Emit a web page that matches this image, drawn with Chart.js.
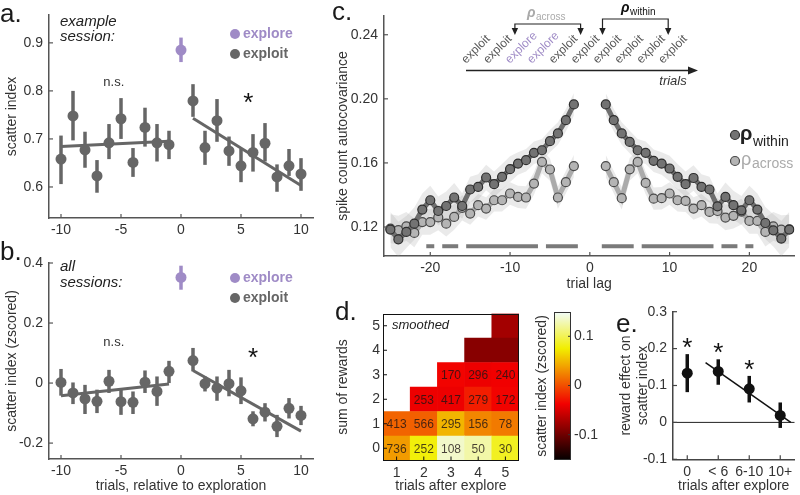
<!DOCTYPE html>
<html><head><meta charset="utf-8">
<script src="https://cdn.jsdelivr.net/npm/chart.js@4.4.1/dist/chart.umd.min.js"></script>
<style>
html,body{margin:0;padding:0;background:#fff}
body{width:800px;height:495px;position:relative;overflow:hidden;font-family:"Liberation Sans",Arial,Helvetica,sans-serif}
canvas{position:absolute}
.pl{position:absolute;font-size:26px;line-height:26px;color:#1a1a1a}
</style></head><body>
<canvas id="cA" width="320" height="240" style="left:0;top:0"></canvas>
<canvas id="cB" width="320" height="255" style="left:0;top:240px"></canvas>
<canvas id="cC" width="470" height="293" style="left:330px;top:0"></canvas>
<canvas id="cD" width="190" height="205" style="left:330px;top:290px"></canvas>
<canvas id="cBar" width="80" height="205" style="left:520px;top:290px"></canvas>
<canvas id="cE" width="200" height="205" style="left:600px;top:290px"></canvas>
<div class="pl" style="left:0;top:0">a.</div>
<div class="pl" style="left:0;top:238px">b.</div>
<div class="pl" style="left:332px;top:-2px">c.</div>
<div class="pl" style="left:335px;top:298px">d.</div>
<div class="pl" style="left:616px;top:310px">e.</div>
<script>
// ================= DATA =================
// panels a & b: trials relative to exploration
const preTrials  = [-10,-9,-8,-7,-6,-5,-4,-3,-2,-1];
const postTrials = [1,2,3,4,5,6,7,8,9,10];
const xTicksAB   = [-10,-5,0,5,10];
// a. example session
const aPre    = [0.658,0.748,0.677,0.623,0.692,0.742,0.651,0.724,0.692,0.688];
const aPreLo  = [0.606,0.697,0.640,0.588,0.658,0.700,0.621,0.684,0.653,0.658];
const aPreHi  = [0.707,0.800,0.715,0.656,0.731,0.785,0.681,0.765,0.731,0.717];
const aPost   = [0.779,0.682,0.738,0.675,0.644,0.672,0.691,0.621,0.644,0.627];
const aPostLo = [0.746,0.646,0.694,0.644,0.610,0.632,0.653,0.590,0.623,0.592];
const aPostHi = [0.814,0.717,0.783,0.705,0.679,0.710,0.733,0.647,0.679,0.660];
const aExplore = [0.885, 0.860, 0.911];        // value, lo, hi
const aFitPre  = [0.684, 0.695];               // at x = -10, -1
const aFitPost = [0.743, 0.603];               // at x = 1, 10
const aYTicks  = [0.6,0.7,0.8,0.9];
// b. all sessions
const bPre    = [0.002,-0.033,-0.053,-0.061,0.006,-0.062,-0.064,0.003,-0.028,0.039];
const bPreLo  = [-0.042,-0.070,-0.103,-0.100,-0.033,-0.106,-0.103,-0.033,-0.076,0.000];
const bPreHi  = [0.047,0.002,-0.006,-0.022,0.044,-0.022,-0.028,0.042,0.022,0.074];
const bPost   = [0.075,-0.002,-0.017,-0.002,-0.026,-0.119,-0.097,-0.144,-0.084,-0.108];
const bPostLo = [0.039,-0.028,-0.059,-0.044,-0.070,-0.144,-0.128,-0.180,-0.118,-0.140];
const bPostHi = [0.117,0.022,0.022,0.044,0.019,-0.094,-0.067,-0.106,-0.050,-0.076];
const bExplore = [0.352, 0.311, 0.391];
const bFitPre  = [-0.042, -0.003];
const bFitPost = [0.042, -0.160];
const bYTicks  = [-0.2,0,0.2,0.4];
// c. spike count autocovariance vs trial lag
const lagsLeft  = [-25,-24,-23,-22,-21,-20,-19,-18,-17,-16,-15,-14,-13,-12,-11,-10,-9,-8,-7,-6,-5,-4,-3,-2];
const lagsRight = [2,3,4,5,6,7,8,9,10,11,12,13,14,15,16,17,18,19,20,21,22,23,24,25];
const withinLeft  = [0.1184,0.1123,0.1169,0.1221,0.1309,0.1367,0.1300,0.1331,0.1384,0.1331,0.1434,0.1450,0.1509,0.1467,0.1513,0.1561,0.1596,0.1617,0.1663,0.1679,0.1736,0.1784,0.1867,0.1965];
const acrossLeft  = [0.1190,0.1180,0.1204,0.1163,0.1231,0.1231,0.1260,0.1221,0.1263,0.1320,0.1284,0.1336,0.1315,0.1367,0.1367,0.1409,0.1388,0.1384,0.1471,0.1606,0.1559,0.1384,0.1480,0.1580];
const withinRight = [0.1965,0.1867,0.1784,0.1731,0.1679,0.1663,0.1613,0.1596,0.1565,0.1513,0.1467,0.1506,0.1450,0.1434,0.1329,0.1388,0.1336,0.1304,0.1367,0.1309,0.1225,0.1179,0.1128,0.1184];
const acrossRight = [0.1580,0.1480,0.1380,0.1560,0.1606,0.1475,0.1377,0.1380,0.1409,0.1367,0.1363,0.1315,0.1336,0.1294,0.1300,0.1259,0.1270,0.1296,0.1238,0.1238,0.1169,0.1204,0.1184,0.1186];
// standard-error half-widths, indexed by |lag| = 2..25
const semWithin = [0.007,0.007,0.007,0.007,0.007,0.007,0.007,0.007,0.008,0.008,0.008,0.008,0.008,0.008,0.008,0.009,0.009,0.009,0.009,0.010,0.010,0.010,0.011,0.011];
const semAcross = [0.007,0.007,0.007,0.007,0.007,0.007,0.007,0.007,0.007,0.007,0.007,0.007,0.007,0.007,0.008,0.008,0.008,0.008,0.008,0.008,0.009,0.009,0.009,0.009];
const sigLags = [2,3,4,5,7,8,9,10,11,12,13,14,15,17,18,20];
const cXTicks = [-20,-10,0,10,20];
const cYTicks = [0.12,0.16,0.20,0.24];
const trialSequence = ['exploit','exploit','explore','explore','exploit','exploit','exploit','exploit','exploit','exploit'];
// d. heatmap: rows = sum of rewards 0..5, cols = trials after explore 1..5
const trialsAfter = ['1','2','3','4','5'];
const heat0 = [0.036,0.078,0.135,0.125,0.085];
const heat1 = [0.010,0.008,0.048,0.026,0.020];
const heat2 = [null,-0.040,-0.040,-0.024,-0.036];
const heat3 = [null,null,-0.036,-0.040,-0.038];
const heat4 = [null,null,null,-0.088,-0.088];
const heat5 = [null,null,null,null,-0.075];
const count0 = [736,252,108,50,30];
const count1 = [413,566,295,156,78];
const count2 = [null,253,417,279,172];
const count3 = [null,null,170,296,240];
const dYTicks = [0,1,2,3,4,5];
const cbRange = [-0.15,0.15];
const cbTicks = [-0.1,0,0.1];
// e. reward effect
const eCats = ['0','< 6','6-10','10+'];
const eVals = [0.1335,0.138,0.091,0.019];
const eLo   = [0.082,0.102,0.054,-0.015];
const eHi   = [0.185,0.171,0.126,0.054];
const eFitX = [1.59,4.34];
const eFitY = [0.162,0.0];
const eStars = ['*','*','*',''];
const eYTicks = [-0.1,0,0.1,0.2,0.3];

// ================= HELPERS =================
const FONT='"Liberation Sans", Arial, Helvetica, sans-serif';
Chart.defaults.font.family=FONT;
Chart.defaults.color='#333';
const GRAY='#666', PURPLE='#9f8bc6';
const xy=(xs,ys)=>xs.map((x,i)=>({x,y:ys[i]}));
const fmt=v=>String(Math.round(v*1000)/1000);

function mkX(o){return {type:'linear',position:'bottom',min:o.min,max:o.max,
 afterFit(s){s.height=o.h;},
 afterBuildTicks(s){s.ticks=o.ticks.map(v=>({value:v}));},
 grid:{display:false,drawTicks:false},
 border:{display:o.border!==false,color:o.bc||'#555',width:o.bw||1.5},
 ticks:{padding:o.pad!=null?o.pad:4,font:{size:14},color:'#333',autoSkip:false,maxRotation:0,minRotation:0,callback:o.fmt||fmt},
 title:{display:!!o.title,text:o.title||'',font:{size:14},color:'#333',padding:{top:0,bottom:0}}};}
function mkY(o){return {type:'linear',position:o.pos||'left',min:o.min,max:o.max,
 afterFit(s){s.width=o.w;},
 afterBuildTicks(s){s.ticks=o.ticks.map(v=>({value:v}));},
 grid:{display:false,drawTicks:false},
 border:{display:o.border!==false,color:o.bc||'#555',width:o.bw||1.5},
 ticks:{padding:o.pad!=null?o.pad:6,font:{size:14},color:'#333',autoSkip:false,callback:o.fmt||fmt},
 title:{display:!!o.title,text:o.title||'',font:{size:14,lineHeight:1.2},color:'#333',padding:{top:o.tpad||0,bottom:0}}};}

const errBars={id:'errBars',beforeDatasetsDraw(ch){const c=ch.ctx,xs=ch.scales.x,ys=ch.scales.y;
 ch.data.datasets.forEach(ds=>{if(!ds.errLo)return;c.save();c.strokeStyle=ds.errColor;c.lineWidth=ds.errWidth||3;
  ds.data.forEach((p,j)=>{const x=xs.getPixelForValue(p.x);c.beginPath();c.moveTo(x,ys.getPixelForValue(ds.errLo[j]));c.lineTo(x,ys.getPixelForValue(ds.errHi[j]));c.stroke();});
  c.restore();});}};
const inTicks={id:'inTicks',afterDatasetsDraw(ch,a,o){const c=ch.ctx,ar=ch.chartArea,L=o.len||4;c.save();c.strokeStyle=o.color||'#555';c.lineWidth=o.width||1.2;
 ['x','y'].forEach(id=>{const s=ch.scales[id];if(!s||o[id]===false)return;s.ticks.forEach(t=>{const p=s.getPixelForValue(t.value);c.beginPath();
  if(id==='x'){c.moveTo(p,ar.bottom);c.lineTo(p,ar.bottom-L);}else if(s.position==='right'){c.moveTo(ar.right,p);c.lineTo(ar.right-L,p);}else{c.moveTo(ar.left,p);c.lineTo(ar.left+L,p);}c.stroke();});});
 c.restore();}};
const annot={id:'annot',afterDraw(ch,a,o){const c=ch.ctx,ox=o.ox||0,oy=o.oy||0;c.save();c.translate(-ox,-oy);
 (o.items||[]).forEach(it=>{let x=it.x,y=it.y;
  if(it.dx!==undefined){x=ch.scales.x.getPixelForValue(it.dx)+ox;y=ch.scales.y.getPixelForValue(it.dy)+oy+(it.off||0);}
  c.save();
  if(it.t==='dot'){c.beginPath();c.arc(x,y,it.r,0,Math.PI*2);c.fillStyle=it.fill;c.fill();if(it.stroke){c.strokeStyle=it.stroke;c.lineWidth=it.lw||1;c.stroke();}}
  else if(it.t==='path'){c.beginPath();it.pts.forEach((p,k)=>k?c.lineTo(p[0],p[1]):c.moveTo(p[0],p[1]));c.strokeStyle=it.color;c.lineWidth=it.lw||1.2;c.stroke();}
  else if(it.t==='head'){c.translate(x,y);c.rotate(it.ang||0);c.beginPath();c.moveTo(0,0);c.lineTo(-it.len,-it.w);c.lineTo(-it.len,it.w);c.closePath();c.fillStyle=it.color;c.fill();}
  else{c.translate(x,y);if(it.rot)c.rotate(it.rot*Math.PI/180);c.font=it.font;c.fillStyle=it.color||'#222';c.textAlign=it.align||'left';c.textBaseline=it.base||'middle';c.fillText(it.text,0,0);}
  c.restore();});
 c.restore();}};
// significance marks: contiguous runs of significant lags, mirrored on both sides
function lagRuns(lags){const runs=[];lags.forEach(l=>{const r=runs[runs.length-1];if(r&&l===r[1]+1)r[1]=l;else runs.push([l,l]);});return runs;}
const sigBars={id:'sigBars',beforeDatasetsDraw(ch,a,o){const c=ch.ctx,xs=ch.scales.x,ys=ch.scales.y,y=ys.getPixelForValue(o.y);c.save();c.strokeStyle=o.color;c.lineWidth=o.width;c.lineCap='butt';
 lagRuns(o.lags).forEach(([l0,l1])=>[[l0-0.5,l1+0.5],[-l1-0.5,-l0+0.5]].forEach(([u,v])=>{c.beginPath();c.moveTo(xs.getPixelForValue(u),y);c.lineTo(xs.getPixelForValue(v),y);c.stroke();}));c.restore();}};
const frame={id:'frame',afterDraw(ch,a,o){const c=ch.ctx,ar=ch.chartArea;c.save();c.strokeStyle=o.color||'#111';c.lineWidth=o.width||1;c.strokeRect(Math.round(ar.left)+0.5,Math.round(ar.top)+0.5,Math.round(ar.right-ar.left)-1,Math.round(ar.bottom-ar.top)-1);c.restore();}};
const cellText={id:'cellText',afterDatasetsDraw(ch,a,o){const c=ch.ctx,xs=ch.scales.x,ys=ch.scales.y;c.save();c.font='12px '+FONT;c.textAlign='center';c.textBaseline='middle';c.fillStyle=o.color;
 o.rows.forEach((row,r)=>row.forEach((n,i)=>{if(n==null)return;c.fillText(String(n),xs.getPixelForValue(i),ys.getPixelForValue(r)+1);}));c.restore();}};
const zeroLine={id:'zeroLine',beforeDatasetsDraw(ch,a,o){const c=ch.ctx,ar=ch.chartArea,y=ch.scales.y.getPixelForValue(0);c.save();c.strokeStyle='#222';c.lineWidth=1;c.beginPath();c.moveTo(ar.left,y);c.lineTo(ar.right,y);c.stroke();c.restore();}};

// MATLAB "hot" colormap
function hot(v){const t=Math.min(1,Math.max(0,(v-cbRange[0])/(cbRange[1]-cbRange[0])));
 const r=Math.min(1,t/0.375),g=Math.min(1,Math.max(0,(t-0.375)/0.375)),b=Math.min(1,Math.max(0,(t-0.75)/0.25));
 return 'rgb('+Math.round(r*242+6*(1-r))+','+Math.round(g*238+14*b)+','+Math.round(b*252)+')';}

const base={responsive:false,animation:false,devicePixelRatio:1,events:[]};

// ================= PANEL A / B =================
function panelAB(id,top,pre,preLo,preHi,post,postLo,postHi,expl,fitPre,fitPost,yMin,yMax,yTicks,yTitle,xTitle,padTop,xh,items){
 return new Chart(document.getElementById(id),{type:'scatter',
  data:{datasets:[
   {data:xy(preTrials,pre),errLo:preLo,errHi:preHi,errColor:GRAY,errWidth:3.5,pointRadius:5.5,pointBackgroundColor:GRAY,pointBorderWidth:0,showLine:false,order:1},
   {data:xy(postTrials,post),errLo:postLo,errHi:postHi,errColor:GRAY,errWidth:3.5,pointRadius:5.5,pointBackgroundColor:GRAY,pointBorderWidth:0,showLine:false,order:1},
   {data:[{x:0,y:expl[0]}],errLo:[expl[1]],errHi:[expl[2]],errColor:PURPLE,errWidth:3.5,pointRadius:5.5,pointBackgroundColor:PURPLE,pointBorderWidth:0,showLine:false,order:1},
   {data:xy([preTrials[0],preTrials[preTrials.length-1]],fitPre),showLine:true,borderColor:GRAY,borderWidth:3,pointRadius:0,order:2},
   {data:xy([postTrials[0],postTrials[postTrials.length-1]],fitPost),showLine:true,borderColor:GRAY,borderWidth:3,pointRadius:0,order:2}
  ]},
  options:Object.assign({},base,{layout:{padding:{top:padTop,right:7,left:0,bottom:0}},
   plugins:{legend:{display:false},tooltip:{enabled:false},inTicks:{len:4,color:'#555'},annot:{ox:0,oy:top,items}},
   scales:{x:mkX({min:-11,max:11,h:xh,ticks:xTicksAB,title:xTitle}),
           y:mkY({min:yMin,max:yMax,w:49,ticks:yTicks,title:yTitle,tpad:4,fmt:v=>v===0?'0':v.toFixed(1)})}}),
  plugins:[errBars,inTicks,annot]});
}
const legendItems=(y1,y2)=>[
 {t:'dot',x:235,y:y1,r:5,fill:PURPLE},{text:'explore',x:243,y:y1,font:'bold 14px '+FONT,color:PURPLE},
 {t:'dot',x:235,y:y2,r:5,fill:GRAY},{text:'exploit',x:243,y:y2,font:'bold 14px '+FONT,color:GRAY}];
panelAB('cA',0,aPre,aPreLo,aPreHi,aPost,aPostLo,aPostHi,aExplore,aFitPre,aFitPost,0.5354,0.958,aYTicks,'scatter index',null,15,22,
 [{text:'example',x:60,y:22,font:'italic 15px '+FONT,color:'#222'},{text:'session:',x:60,y:37,font:'italic 15px '+FONT,color:'#222'},
  {text:'n.s.',dx:-5.6,dy:0.817,font:'13px '+FONT,color:'#333',align:'center'},
  {text:'*',dx:5.6,dy:0.785,off:6,font:'26px '+FONT,color:'#111',align:'center'}].concat(legendItems(34,54)));
panelAB('cB',240,bPre,bPreLo,bPreHi,bPost,bPostLo,bPostHi,bExplore,bFitPre,bFitPost,-0.253,0.4,bYTicks,'scatter index (zscored)','trials, relative to exploration',23,36,
 [{text:'all',x:60,y:267,font:'italic 15px '+FONT,color:'#222'},{text:'sessions:',x:60,y:283,font:'italic 15px '+FONT,color:'#222'},
  {text:'n.s.',dx:-5.6,dy:0.134,font:'13px '+FONT,color:'#333',align:'center'},
  {text:'*',dx:6,dy:0.101,off:6,font:'26px '+FONT,color:'#111',align:'center'}].concat(legendItems(278,298)));

// ================= PANEL C =================
const semOf=(arr,lags)=>lags.map(l=>arr[Math.abs(l)-2]);
const band=(lags,vals,sem,sign)=>lags.map((l,i)=>({x:l,y:vals[i]+sign*sem[i]}));
const BAND='rgba(160,160,160,0.22)', WL='#6e6e6e', AL='#ababab';
const cDatasets=[];
[[lagsLeft,withinLeft,acrossLeft],[lagsRight,withinRight,acrossRight]].forEach(([lags,w,a])=>{
 const sw=semOf(semWithin,lags), sa=semOf(semAcross,lags);
 cDatasets.push({data:xy(lags,w),showLine:true,borderColor:WL,borderWidth:5,pointRadius:4.5,pointBackgroundColor:'#737373',pointBorderColor:'#2e2e2e',pointBorderWidth:1.2,order:3});
 cDatasets.push({data:xy(lags,a),showLine:true,borderColor:AL,borderWidth:5,pointRadius:4.5,pointBackgroundColor:'#b4b4b4',pointBorderColor:'#4a4a4a',pointBorderWidth:1.2,order:4});
 cDatasets.push({data:band(lags,w,sw,1),showLine:true,borderWidth:0,pointRadius:0,fill:'+1',backgroundColor:BAND,order:10});
 cDatasets.push({data:band(lags,w,sw,-1),showLine:true,borderWidth:0,pointRadius:0,fill:false,order:10});
 cDatasets.push({data:band(lags,a,sa,1),showLine:true,borderWidth:0,pointRadius:0,fill:'+1',backgroundColor:BAND,order:10});
 cDatasets.push({data:band(lags,a,sa,-1),showLine:true,borderWidth:0,pointRadius:0,fill:false,order:10});
});
const seqX=i=>466+i*21.9;
const diag=[];
diag.push({t:'path',pts:[[466,70.5],[690,70.5]],color:'#222',lw:1.3});
diag.push({t:'head',x:698,y:70.5,ang:0,len:10,w:4,color:'#222'});
diag.push({text:'trials',x:673,y:81,font:'italic 13px '+FONT,color:'#333',align:'center'});
trialSequence.forEach((s,i)=>diag.push({text:s,x:seqX(i),y:64,rot:-45,base:'alphabetic',font:'12px '+FONT,color:s==='explore'?PURPLE:'#555'}));
function bracket(i1,i2,yTop,label,sub,col,lx){const x1=seqX(i1)+27,x2=seqX(i2)+27;
 diag.push({t:'path',pts:[[x1,33],[x1,yTop],[x2,yTop],[x2,33]],color:'#222',lw:1.2});
 diag.push({t:'head',x:x1,y:35,ang:Math.PI/2,len:7,w:3.2,color:'#222'});
 diag.push({t:'head',x:x2,y:35,ang:Math.PI/2,len:7,w:3.2,color:'#222'});
 diag.push({text:'ρ',x:lx,y:yTop-7,base:'alphabetic',font:'italic bold 14px '+FONT,color:col});
 diag.push({text:sub,x:lx+9,y:yTop-4,base:'alphabetic',font:'10px '+FONT,color:col});}
bracket(1,4,24,'ρ','across','#aaa',527);
bracket(5,8,19,'ρ','within','#111',621);
diag.push({t:'dot',x:735,y:135,r:4.5,fill:'#737373',stroke:'#2e2e2e',lw:1.2});
diag.push({text:'ρ',x:740,y:140,base:'alphabetic',font:'bold 20px '+FONT,color:'#222'});
diag.push({text:'within',x:753,y:146,base:'alphabetic',font:'14px '+FONT,color:'#222'});
diag.push({t:'dot',x:735,y:161,r:4.5,fill:'#b4b4b4',stroke:'#4a4a4a',lw:1.2});
diag.push({text:'ρ',x:741,y:165,base:'alphabetic',font:'18px '+FONT,color:'#aaa'});
diag.push({text:'across',x:752,y:168,base:'alphabetic',font:'14px '+FONT,color:'#aaa'});
new Chart(document.getElementById('cC'),{type:'scatter',data:{datasets:cDatasets},
 options:Object.assign({},base,{layout:{padding:{top:16,right:2,left:0,bottom:0}},
  plugins:{legend:{display:false},tooltip:{enabled:false},filler:{propagate:false},inTicks:{len:4,color:'#555'},sigBars:{y:0.108,lags:sigLags,color:'#7a7a7a',width:4},annot:{ox:330,oy:0,items:diag}},
  scales:{x:mkX({min:-25.8,max:25.63,h:37,ticks:cXTicks,title:'trial lag'}),
          y:mkY({min:0.1019,max:0.2517,w:54,ticks:cYTicks,title:'spike count autocovariance',tpad:5,fmt:v=>v.toFixed(2)})}}),
 plugins:[sigBars,inTicks,annot]});

// ================= PANEL D =================
const heatRows=[heat0,heat1,heat2,heat3,heat4,heat5];
const dDatasets=heatRows.map((row,r)=>({data:row.map(v=>v==null?null:[r-0.5,r+0.5]),backgroundColor:row.map(v=>v==null?'rgba(0,0,0,0)':hot(v)),
 grouped:false,barPercentage:1,categoryPercentage:1,borderWidth:0}));
new Chart(document.getElementById('cD'),{type:'bar',data:{labels:trialsAfter,datasets:dDatasets},
 options:Object.assign({},base,{layout:{padding:{top:23.5,right:1,left:0,bottom:0}},
  plugins:{legend:{display:false},tooltip:{enabled:false},inTicks:{len:4,color:'#111',width:1},frame:{color:'#111',width:1},cellText:{rows:[count0,count1,count2,count3],color:'rgba(30,20,20,0.8)'},
   annot:{ox:330,oy:290,items:[{text:'smoothed',x:392,y:325,font:'italic 13px '+FONT,color:'#222'}]}},
  scales:{x:{type:'category',afterFit(s){s.height=34.5;},grid:{display:false,drawTicks:false},border:{display:false},
     ticks:{padding:4,font:{size:14},color:'#333'},title:{display:true,text:'trials after explore',font:{size:14},color:'#333',padding:{top:0,bottom:0}}},
   y:mkY({min:-0.5,max:5.5,w:53,ticks:dYTicks,title:'sum of rewards',tpad:4.5,pad:3,border:false})}}),
 plugins:[cellText,inTicks,frame,annot]});

// ================= COLORBAR =================
new Chart(document.getElementById('cBar'),{type:'bar',data:{labels:[''],datasets:[{data:[cbRange],barPercentage:1,categoryPercentage:1,borderWidth:0,
  backgroundColor:(ctx)=>{const ch=ctx.chart;if(!ch.chartArea)return '#f00';const ys=ch.scales.y;const g=ch.ctx.createLinearGradient(0,ys.getPixelForValue(cbRange[0]),0,ys.getPixelForValue(cbRange[1]));
   for(let k=0;k<=40;k++){const v=cbRange[0]+(cbRange[1]-cbRange[0])*k/40;g.addColorStop(k/40,hot(v));}return g;}}]},
 options:Object.assign({},base,{layout:{padding:{top:21.7,right:0,left:34,bottom:35.7}},
  plugins:{legend:{display:false},tooltip:{enabled:false},inTicks:{x:false,len:3,color:'#333',width:1},frame:{color:'#333',width:1},
   annot:{ox:520,oy:290,items:[{text:'scatter index (zscored)',x:542,y:386,rot:-90,align:'center',font:'14px '+FONT,color:'#333'}]}},
  scales:{x:{display:false},y:mkY({pos:'right',min:cbRange[0],max:cbRange[1],w:29,ticks:cbTicks,pad:3,border:false})}}),
 plugins:[inTicks,frame,annot]});

// ================= PANEL E =================
const ePos=eCats.map((c,i)=>i+1);
new Chart(document.getElementById('cE'),{type:'scatter',
 data:{datasets:[
  {data:xy(ePos,eVals),errLo:eLo,errHi:eHi,errColor:'#111',errWidth:3.5,pointRadius:5.5,pointBackgroundColor:'#111',pointBorderWidth:0,showLine:false,order:1},
  {data:xy(eFitX,eFitY),showLine:true,borderColor:'#111',borderWidth:1.5,pointRadius:0,order:2}]},
 options:Object.assign({},base,{layout:{padding:{top:21.7,right:1,left:0,bottom:0}},
  plugins:{legend:{display:false},tooltip:{enabled:false},inTicks:{len:4,color:'#444'},
   annot:{ox:600,oy:290,items:ePos.filter((p,i)=>eStars[i]).map(p=>({text:eStars[p-1],dx:p,dy:eHi[p-1]+0.03,off:6,font:'26px '+FONT,color:'#111',align:'center'}))}},
  scales:{x:mkX({min:0.54,max:4.46,h:35.7,ticks:ePos,title:'trials after explore',fmt:v=>eCats[v-1],bc:'#444'}),
          y:mkY({min:-0.1,max:0.3,w:73,ticks:eYTicks,title:['reward effect on','scatter index'],tpad:17.6,bc:'#444',fmt:v=>v===0?'0':v.toFixed(1)})}}),
 plugins:[zeroLine,errBars,inTicks,annot]});
</script>
</body></html>
